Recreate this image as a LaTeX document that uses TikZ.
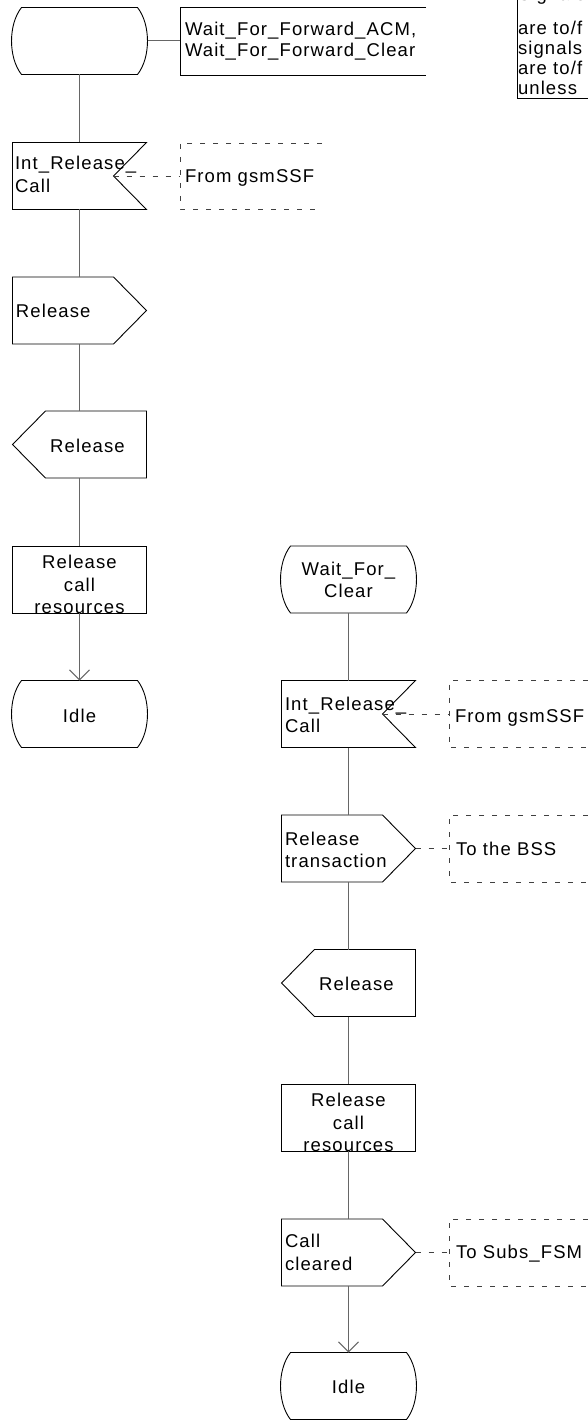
\documentclass[tikz,border=0pt]{standalone}
\usepackage{fontspec}
\setmainfont{Liberation Sans}[LetterSpace=6]
\usetikzlibrary{calc,arrows.meta}
\newcommand\SDLstate[1]{\path[shp] ($(#1.north west)+(10,0)$) -- ($(#1.north east)+(-10,0)$) .. controls ($(#1.north east)+(3.3,17)$) and ($(#1.south east)+(3.3,-17)$) .. ($(#1.south east)+(-10,0)$) -- ($(#1.south west)+(10,0)$) .. controls ($(#1.south west)+(-3.3,-17)$) and ($(#1.north west)+(-3.3,17)$) .. cycle;}
\newcommand\SDLinR[1]{\path[shp] (#1.north west) -- (#1.north east) -- ($(#1.east)+(-33,0)$) -- (#1.south east) -- (#1.south west) -- cycle;}
\newcommand\SDLout[1]{\path[shp] (#1.north west) -- ($(#1.north east)+(-33,0)$) -- (#1.east) -- ($(#1.south east)+(-33,0)$) -- (#1.south west) -- cycle;}
\newcommand\SDLinL[1]{\path[shp] ($(#1.north west)+(33,0)$) -- (#1.north east) -- (#1.south east) -- ($(#1.south west)+(33,0)$) -- (#1.west) -- cycle;}
\newcommand\SDLcom[1]{\path[dsh] (#1.north east) -- (#1.north west) -- (#1.south west) -- (#1.south east);}
\begin{document}
\begin{tikzpicture}[x=1pt,y=-1pt,
  shp/.style={draw=black, line width=0.9pt},
  sym/.style={minimum width=134pt, minimum height=67pt, inner sep=0pt, outer sep=0pt},
  stsym/.style={sym, minimum width=136pt},
  boxsym/.style={sym, shp},
  comsym/.style={minimum width=139pt, minimum height=67pt, inner sep=0pt, outer sep=0pt},
  conn/.style={draw=black!60, line width=1pt},
  flow/.style={conn, -{Straight Barb[length=10pt,width=20pt]}},
  dsh/.style={draw=black!75, line width=0.8pt, dash pattern=on 5pt off 8pt},
  txt/.style={inner sep=0pt, outer sep=0pt, font=\fontsize{18.5}{22}\selectfont},
  tl/.style={txt, anchor=base west},
  tc/.style={txt, anchor=base},
]
\useasboundingbox (0,0) rectangle (588,1420);

% ---------- left column ----------
\node[stsym] (s0) at (79.5,41) {};
\node[minimum width=246pt, minimum height=68pt, inner sep=0pt, outer sep=0pt] (tx) at (303,41) {};
\node[sym] (ir1) at (79.5,176) {};
\coordinate (ir1n) at ($(ir1.east)+(-33,0)$);
\node[minimum width=142pt, minimum height=66pt, inner sep=0pt, outer sep=0pt] (cm1) at (251,176) {};
\node[sym] (or1) at (79.5,310.5) {};
\node[sym] (il1) at (79.5,444.5) {};
\node[boxsym] (b1) at (79.5,579.5) {};
\node[stsym] (id1) at (79.5,714) {};

\SDLstate{s0}
\path[shp] (tx.north east) -- (tx.north west) -- (tx.south west) -- (tx.south east);
\SDLinR{ir1}
\SDLcom{cm1}
\SDLout{or1}
\SDLinL{il1}
\SDLstate{id1}

\draw[conn] (s0.east) -- (tx.west);
\draw[conn] (s0.south) -- (ir1.north);
\draw[dsh] (ir1n) -- (cm1.west);
\draw[conn] (ir1.south) -- (or1.north);
\draw[conn] (or1.south) -- (il1.north);
\draw[conn] (il1.south) -- (b1.north);
\draw[flow] (b1.south) -- (id1.north);

% ---------- right column ----------
\node[stsym] (s2) at (348.5,579.5) {};
\node[sym] (ir2) at (348.5,714) {};
\coordinate (ir2n) at ($(ir2.east)+(-33,0)$);
\node[comsym] (cm2) at (518.5,714) {};
\node[sym] (or2) at (348.5,848.5) {};
\node[comsym] (cm3) at (518.5,848.5) {};
\node[sym] (il2) at (348.5,983) {};
\node[boxsym] (b2) at (348.5,1117.5) {};
\node[sym] (or3) at (348.5,1252.5) {};
\node[comsym] (cm4) at (518.5,1252.5) {};
\node[stsym] (id2) at (348.5,1386) {};

\SDLstate{s2}
\SDLinR{ir2}
\SDLcom{cm2}
\SDLout{or2}
\SDLcom{cm3}
\SDLinL{il2}
\SDLout{or3}
\SDLcom{cm4}
\SDLstate{id2}

\draw[conn] (s2.south) -- (ir2.north);
\draw[dsh] (ir2n) -- (cm2.west);
\draw[conn] (ir2.south) -- (or2.north);
\draw[dsh] (or2.east) -- (cm3.west);
\draw[conn] (or2.south) -- (il2.north);
\draw[conn] (il2.south) -- (b2.north);
\draw[conn] (b2.south) -- (or3.north);
\draw[dsh] (or3.east) -- (cm4.west);
\draw[flow] (or3.south) -- (id2.north);

% ---------- texts ----------
\node[tl] (t01) at (185,36) {Wait\_For\_Forward\_ACM,};
\node[tl] (t02) at (185,57) {Wait\_For\_Forward\_Clear};
\node[tl] (t03) at (15,170) {Int\_Release\_};
\node[tl] (t04) at (15,193) {Call};
\node[tl] (t05) at (185,183) {From gsmSSF};
\node[tl] (t06) at (16,317) {Release};
\node[tc] (t07) at (87.5,452) {Release};
\node[tc] (t08) at (79.5,568) {Release};
\node[tc] (t09) at (79.5,591) {call};
\node[tc] (t10) at (79.5,613) {resources};
\node[tc] (t11) at (79.5,722) {Idle};

\node[tc] (t12) at (348.5,575) {Wait\_For\_};
\node[tc] (t13) at (348.5,597) {Clear};
\node[tl] (t14) at (285,710) {Int\_Release\_};
\node[tl] (t15) at (285,732) {Call};
\node[tl] (t16) at (455,722) {From gsmSSF};
\node[tl] (t17) at (285,845) {Release};
\node[tl] (t18) at (285,867) {transaction};
\node[tl] (t19) at (456,855) {To the BSS};
\node[tc] (t20) at (356.5,990) {Release};
\node[tc] (t21) at (348.5,1106.5) {Release};
\node[tc] (t22) at (348.5,1129) {call};
\node[tc] (t23) at (348.5,1151) {resources};
\node[tl] (t24) at (285,1247) {Call};
\node[tl] (t25) at (285,1270) {cleared};
\node[tl] (t26) at (456,1258) {To Subs\_FSM};
\node[tc] (t27) at (348.5,1393) {Idle};

% ---------- note (cut by the page edge) ----------
\begin{scope}
\clip (0,0) rectangle (588,1420);
\path[shp] (517,-2) -- (517,98) -- (590,98);
\node[tl] (n0) at (518,1) {Signals};
\node[tl] (n1) at (518,35) {are to/f};
\node[tl] (n2) at (518,55) {signals};
\node[tl] (n3) at (518,75) {are to/f};
\node[tl] (n4) at (518,95) {unless};
\end{scope}
\end{tikzpicture}
\end{document}
